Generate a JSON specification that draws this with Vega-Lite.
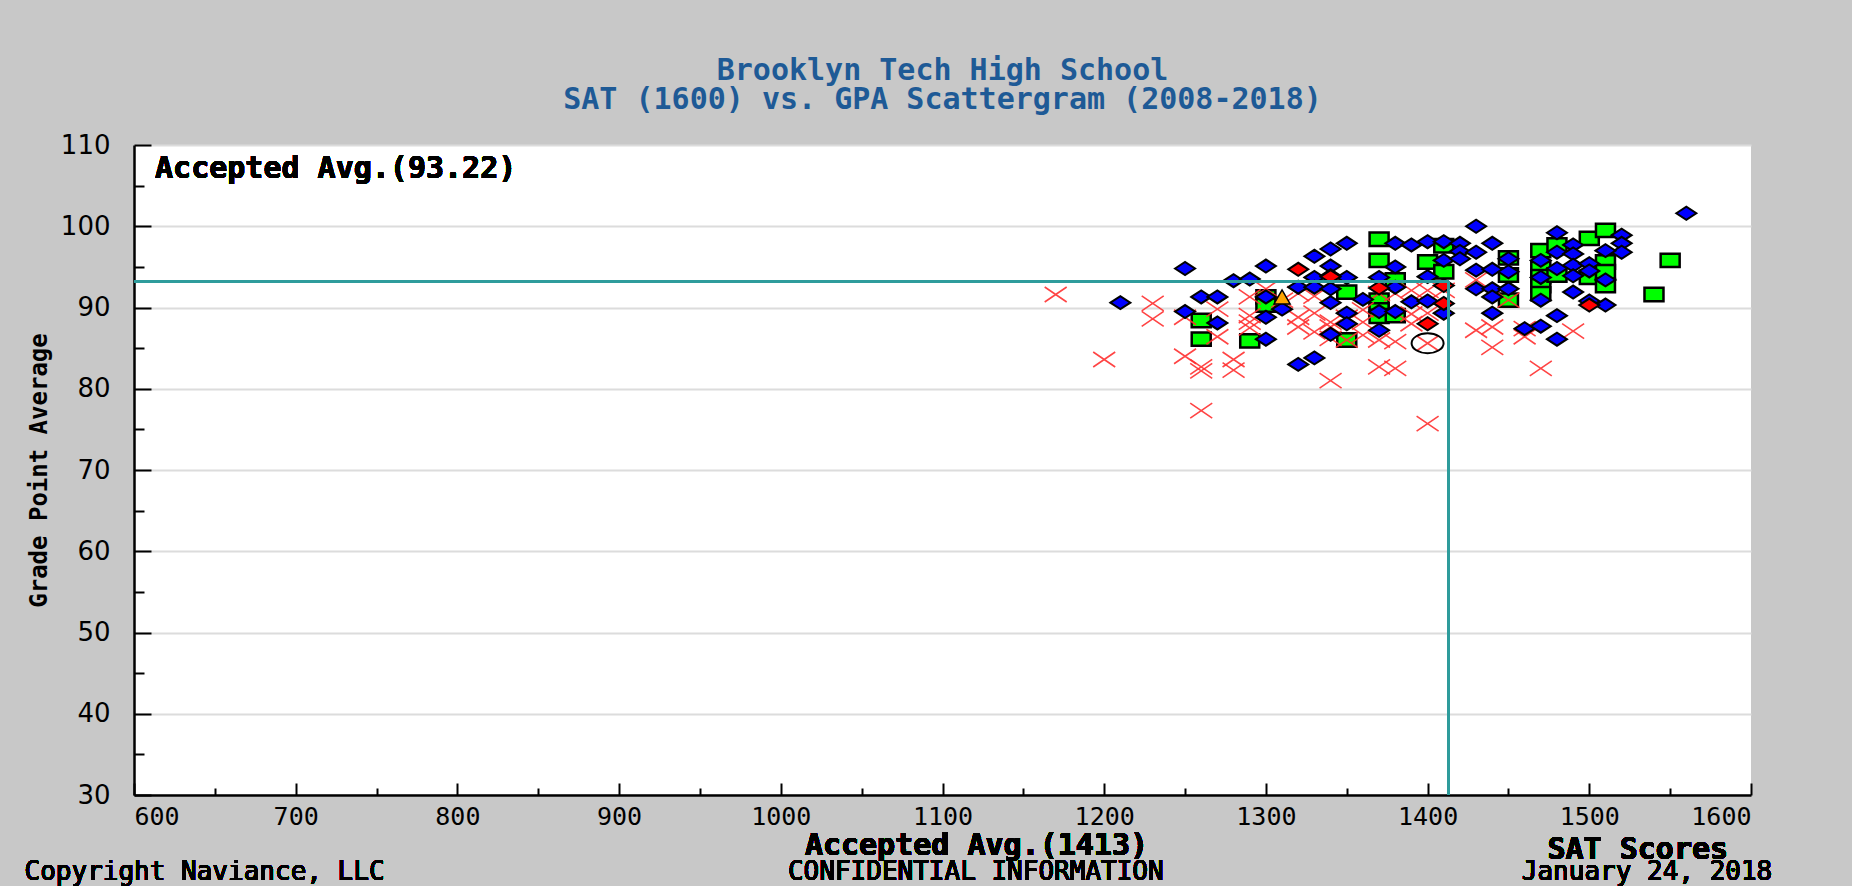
{
  "$schema": "https://vega.github.io/schema/vega-lite/v6.json",
  "autosize": {"type": "none"},
  "width": 1617,
  "height": 650,
  "padding": {"left": 134, "top": 145, "right": 101, "bottom": 91},
  "background": "#C8C8C8",
  "view": {"fill": "white", "stroke": null},
  "title": {
    "text": "Brooklyn Tech High School",
    "subtitle": "SAT (1600) vs. GPA Scattergram (2008-2018)",
    "anchor": "middle",
    "font": "DejaVu Sans Mono", "fontSize": 30, "fontWeight": "bold", "color": "#1E5A96",
    "subtitleFont": "DejaVu Sans Mono", "subtitleFontSize": 30, "subtitleFontWeight": "bold", "subtitleColor": "#1E5A96",
    "subtitlePadding": -1,
    "offset": 17
  },
  "resolve": {"axis": {"x": "independent", "y": "independent"}},
  "datasets": {
    "points": [
      {"sat": 1260, "gpa": 88.4, "group": "Accepted"},
      {"sat": 1260, "gpa": 86.1, "group": "Accepted"},
      {"sat": 1290, "gpa": 85.9, "group": "Accepted"},
      {"sat": 1300, "gpa": 91.3, "group": "Accepted"},
      {"sat": 1300, "gpa": 90.3, "group": "Accepted"},
      {"sat": 1350, "gpa": 91.9, "group": "Accepted"},
      {"sat": 1350, "gpa": 86.0, "group": "Accepted"},
      {"sat": 1370, "gpa": 98.4, "group": "Accepted"},
      {"sat": 1370, "gpa": 95.8, "group": "Accepted"},
      {"sat": 1370, "gpa": 90.9, "group": "Accepted"},
      {"sat": 1370, "gpa": 89.7, "group": "Accepted"},
      {"sat": 1370, "gpa": 88.9, "group": "Accepted"},
      {"sat": 1380, "gpa": 93.4, "group": "Accepted"},
      {"sat": 1380, "gpa": 89.0, "group": "Accepted"},
      {"sat": 1400, "gpa": 95.6, "group": "Accepted"},
      {"sat": 1410, "gpa": 97.6, "group": "Accepted"},
      {"sat": 1410, "gpa": 94.4, "group": "Accepted"},
      {"sat": 1450, "gpa": 96.1, "group": "Accepted"},
      {"sat": 1450, "gpa": 94.0, "group": "Accepted"},
      {"sat": 1450, "gpa": 90.9, "group": "Accepted"},
      {"sat": 1470, "gpa": 97.0, "group": "Accepted"},
      {"sat": 1470, "gpa": 94.8, "group": "Accepted"},
      {"sat": 1470, "gpa": 93.8, "group": "Accepted"},
      {"sat": 1470, "gpa": 92.7, "group": "Accepted"},
      {"sat": 1470, "gpa": 91.7, "group": "Accepted"},
      {"sat": 1480, "gpa": 97.7, "group": "Accepted"},
      {"sat": 1480, "gpa": 94.0, "group": "Accepted"},
      {"sat": 1500, "gpa": 98.5, "group": "Accepted"},
      {"sat": 1500, "gpa": 93.7, "group": "Accepted"},
      {"sat": 1510, "gpa": 99.5, "group": "Accepted"},
      {"sat": 1510, "gpa": 95.6, "group": "Accepted"},
      {"sat": 1510, "gpa": 94.4, "group": "Accepted"},
      {"sat": 1510, "gpa": 92.7, "group": "Accepted"},
      {"sat": 1540, "gpa": 91.6, "group": "Accepted"},
      {"sat": 1550, "gpa": 95.8, "group": "Accepted"},

      {"sat": 1170, "gpa": 91.6, "group": "Denied"},
      {"sat": 1200, "gpa": 83.6, "group": "Denied"},
      {"sat": 1230, "gpa": 90.5, "group": "Denied"},
      {"sat": 1230, "gpa": 88.6, "group": "Denied"},
      {"sat": 1250, "gpa": 84.0, "group": "Denied"},
      {"sat": 1250, "gpa": 88.8, "group": "Denied"},
      {"sat": 1260, "gpa": 82.7, "group": "Denied"},
      {"sat": 1260, "gpa": 82.2, "group": "Denied"},
      {"sat": 1260, "gpa": 77.3, "group": "Denied"},
      {"sat": 1270, "gpa": 89.8, "group": "Denied"},
      {"sat": 1270, "gpa": 86.4, "group": "Denied"},
      {"sat": 1280, "gpa": 83.6, "group": "Denied"},
      {"sat": 1280, "gpa": 82.3, "group": "Denied"},
      {"sat": 1290, "gpa": 91.3, "group": "Denied"},
      {"sat": 1290, "gpa": 89.0, "group": "Denied"},
      {"sat": 1290, "gpa": 88.2, "group": "Denied"},
      {"sat": 1290, "gpa": 87.5, "group": "Denied"},
      {"sat": 1300, "gpa": 92.3, "group": "Denied"},
      {"sat": 1310, "gpa": 90.9, "group": "Denied"},
      {"sat": 1320, "gpa": 91.7, "group": "Denied"},
      {"sat": 1320, "gpa": 88.8, "group": "Denied"},
      {"sat": 1320, "gpa": 87.6, "group": "Denied"},
      {"sat": 1330, "gpa": 91.4, "group": "Denied"},
      {"sat": 1330, "gpa": 89.3, "group": "Denied"},
      {"sat": 1330, "gpa": 87.0, "group": "Denied"},
      {"sat": 1340, "gpa": 88.2, "group": "Denied"},
      {"sat": 1340, "gpa": 87.6, "group": "Denied"},
      {"sat": 1340, "gpa": 86.2, "group": "Denied"},
      {"sat": 1340, "gpa": 81.0, "group": "Denied"},
      {"sat": 1350, "gpa": 88.8, "group": "Denied"},
      {"sat": 1350, "gpa": 86.0, "group": "Denied"},
      {"sat": 1360, "gpa": 89.7, "group": "Denied"},
      {"sat": 1360, "gpa": 88.2, "group": "Denied"},
      {"sat": 1360, "gpa": 86.6, "group": "Denied"},
      {"sat": 1370, "gpa": 91.7, "group": "Denied"},
      {"sat": 1370, "gpa": 86.0, "group": "Denied"},
      {"sat": 1370, "gpa": 82.7, "group": "Denied"},
      {"sat": 1380, "gpa": 91.7, "group": "Denied"},
      {"sat": 1380, "gpa": 85.8, "group": "Denied"},
      {"sat": 1380, "gpa": 82.5, "group": "Denied"},
      {"sat": 1390, "gpa": 92.1, "group": "Denied"},
      {"sat": 1390, "gpa": 89.2, "group": "Denied"},
      {"sat": 1390, "gpa": 88.0, "group": "Denied"},
      {"sat": 1400, "gpa": 92.1, "group": "Denied"},
      {"sat": 1400, "gpa": 89.3, "group": "Denied"},
      {"sat": 1400, "gpa": 85.6, "group": "Denied"},
      {"sat": 1400, "gpa": 75.7, "group": "Denied"},
      {"sat": 1410, "gpa": 92.1, "group": "Denied"},
      {"sat": 1430, "gpa": 93.4, "group": "Denied"},
      {"sat": 1430, "gpa": 87.2, "group": "Denied"},
      {"sat": 1440, "gpa": 87.6, "group": "Denied"},
      {"sat": 1440, "gpa": 85.1, "group": "Denied"},
      {"sat": 1450, "gpa": 90.9, "group": "Denied"},
      {"sat": 1460, "gpa": 87.4, "group": "Denied"},
      {"sat": 1460, "gpa": 86.4, "group": "Denied"},
      {"sat": 1470, "gpa": 82.5, "group": "Denied"},
      {"sat": 1490, "gpa": 87.1, "group": "Denied"},

      {"sat": 1210, "gpa": 90.6, "group": "EarlyAccepted"},
      {"sat": 1250, "gpa": 94.8, "group": "EarlyAccepted"},
      {"sat": 1250, "gpa": 89.5, "group": "EarlyAccepted"},
      {"sat": 1260, "gpa": 91.3, "group": "EarlyAccepted"},
      {"sat": 1270, "gpa": 91.3, "group": "EarlyAccepted"},
      {"sat": 1270, "gpa": 88.1, "group": "EarlyAccepted"},
      {"sat": 1280, "gpa": 93.3, "group": "EarlyAccepted"},
      {"sat": 1290, "gpa": 93.5, "group": "EarlyAccepted"},
      {"sat": 1300, "gpa": 95.1, "group": "EarlyAccepted"},
      {"sat": 1300, "gpa": 91.3, "group": "EarlyAccepted"},
      {"sat": 1300, "gpa": 88.8, "group": "EarlyAccepted"},
      {"sat": 1300, "gpa": 86.1, "group": "EarlyAccepted"},
      {"sat": 1310, "gpa": 89.8, "group": "EarlyAccepted"},
      {"sat": 1320, "gpa": 92.5, "group": "EarlyAccepted"},
      {"sat": 1320, "gpa": 83.0, "group": "EarlyAccepted"},
      {"sat": 1330, "gpa": 83.8, "group": "EarlyAccepted"},
      {"sat": 1330, "gpa": 96.3, "group": "EarlyAccepted"},
      {"sat": 1340, "gpa": 97.2, "group": "EarlyAccepted"},
      {"sat": 1350, "gpa": 97.9, "group": "EarlyAccepted"},
      {"sat": 1340, "gpa": 95.1, "group": "EarlyAccepted"},
      {"sat": 1330, "gpa": 93.7, "group": "EarlyAccepted"},
      {"sat": 1340, "gpa": 93.9, "group": "EarlyAccepted"},
      {"sat": 1350, "gpa": 93.7, "group": "EarlyAccepted"},
      {"sat": 1330, "gpa": 92.5, "group": "EarlyAccepted"},
      {"sat": 1340, "gpa": 92.3, "group": "EarlyAccepted"},
      {"sat": 1340, "gpa": 90.6, "group": "EarlyAccepted"},
      {"sat": 1350, "gpa": 89.3, "group": "EarlyAccepted"},
      {"sat": 1350, "gpa": 88.0, "group": "EarlyAccepted"},
      {"sat": 1340, "gpa": 86.7, "group": "EarlyAccepted"},
      {"sat": 1360, "gpa": 91.0, "group": "EarlyAccepted"},
      {"sat": 1380, "gpa": 97.9, "group": "EarlyAccepted"},
      {"sat": 1390, "gpa": 97.7, "group": "EarlyAccepted"},
      {"sat": 1400, "gpa": 98.1, "group": "EarlyAccepted"},
      {"sat": 1380, "gpa": 95.0, "group": "EarlyAccepted"},
      {"sat": 1370, "gpa": 93.7, "group": "EarlyAccepted"},
      {"sat": 1370, "gpa": 89.5, "group": "EarlyAccepted"},
      {"sat": 1370, "gpa": 87.2, "group": "EarlyAccepted"},
      {"sat": 1380, "gpa": 92.5, "group": "EarlyAccepted"},
      {"sat": 1380, "gpa": 89.5, "group": "EarlyAccepted"},
      {"sat": 1390, "gpa": 90.7, "group": "EarlyAccepted"},
      {"sat": 1400, "gpa": 90.8, "group": "EarlyAccepted"},
      {"sat": 1400, "gpa": 93.8, "group": "EarlyAccepted"},
      {"sat": 1410, "gpa": 98.1, "group": "EarlyAccepted"},
      {"sat": 1410, "gpa": 95.8, "group": "EarlyAccepted"},
      {"sat": 1410, "gpa": 89.3, "group": "EarlyAccepted"},
      {"sat": 1420, "gpa": 97.9, "group": "EarlyAccepted"},
      {"sat": 1420, "gpa": 96.9, "group": "EarlyAccepted"},
      {"sat": 1420, "gpa": 96.0, "group": "EarlyAccepted"},
      {"sat": 1430, "gpa": 100.0, "group": "EarlyAccepted"},
      {"sat": 1430, "gpa": 96.8, "group": "EarlyAccepted"},
      {"sat": 1440, "gpa": 97.9, "group": "EarlyAccepted"},
      {"sat": 1430, "gpa": 94.6, "group": "EarlyAccepted"},
      {"sat": 1440, "gpa": 94.7, "group": "EarlyAccepted"},
      {"sat": 1430, "gpa": 92.3, "group": "EarlyAccepted"},
      {"sat": 1440, "gpa": 92.3, "group": "EarlyAccepted"},
      {"sat": 1440, "gpa": 91.3, "group": "EarlyAccepted"},
      {"sat": 1440, "gpa": 89.3, "group": "EarlyAccepted"},
      {"sat": 1450, "gpa": 96.0, "group": "EarlyAccepted"},
      {"sat": 1450, "gpa": 94.4, "group": "EarlyAccepted"},
      {"sat": 1450, "gpa": 92.3, "group": "EarlyAccepted"},
      {"sat": 1460, "gpa": 87.4, "group": "EarlyAccepted"},
      {"sat": 1470, "gpa": 87.7, "group": "EarlyAccepted"},
      {"sat": 1480, "gpa": 89.0, "group": "EarlyAccepted"},
      {"sat": 1480, "gpa": 86.1, "group": "EarlyAccepted"},
      {"sat": 1490, "gpa": 91.9, "group": "EarlyAccepted"},
      {"sat": 1500, "gpa": 90.8, "group": "EarlyAccepted"},
      {"sat": 1510, "gpa": 90.3, "group": "EarlyAccepted"},
      {"sat": 1560, "gpa": 101.6, "group": "EarlyAccepted"},
      {"sat": 1520, "gpa": 98.9, "group": "EarlyAccepted"},
      {"sat": 1520, "gpa": 97.9, "group": "EarlyAccepted"},
      {"sat": 1520, "gpa": 96.8, "group": "EarlyAccepted"},
      {"sat": 1480, "gpa": 99.2, "group": "EarlyAccepted"},
      {"sat": 1480, "gpa": 96.8, "group": "EarlyAccepted"},
      {"sat": 1490, "gpa": 97.7, "group": "EarlyAccepted"},
      {"sat": 1490, "gpa": 96.6, "group": "EarlyAccepted"},
      {"sat": 1490, "gpa": 95.2, "group": "EarlyAccepted"},
      {"sat": 1490, "gpa": 93.9, "group": "EarlyAccepted"},
      {"sat": 1500, "gpa": 95.4, "group": "EarlyAccepted"},
      {"sat": 1500, "gpa": 94.5, "group": "EarlyAccepted"},
      {"sat": 1510, "gpa": 97.0, "group": "EarlyAccepted"},
      {"sat": 1510, "gpa": 93.4, "group": "EarlyAccepted"},
      {"sat": 1470, "gpa": 95.8, "group": "EarlyAccepted"},
      {"sat": 1470, "gpa": 93.7, "group": "EarlyAccepted"},
      {"sat": 1470, "gpa": 90.9, "group": "EarlyAccepted"},
      {"sat": 1480, "gpa": 94.8, "group": "EarlyAccepted"},

      {"sat": 1320, "gpa": 94.7, "group": "EarlyDenied"},
      {"sat": 1340, "gpa": 93.8, "group": "EarlyDenied"},
      {"sat": 1370, "gpa": 92.4, "group": "EarlyDenied"},
      {"sat": 1400, "gpa": 88.0, "group": "EarlyDenied"},
      {"sat": 1410, "gpa": 92.7, "group": "EarlyDenied"},
      {"sat": 1410, "gpa": 90.5, "group": "EarlyDenied"},
      {"sat": 1500, "gpa": 90.3, "group": "EarlyDenied"},

      {"sat": 1310, "gpa": 91.3, "group": "Waitlisted"},
      {"sat": 1400, "gpa": 85.6, "group": "Student"}
    ]
  },
  "data": {"name": "points"},
  "encoding": {
    "x": {"field": "sat", "type": "quantitative", "scale": {"domain": [600, 1600], "nice": false, "zero": false}, "axis": null},
    "y": {"field": "gpa", "type": "quantitative", "scale": {"domain": [30, 110], "nice": false, "zero": false}, "axis": null}
  },
  "layer": [
    {
      "transform": [{"filter": "datum.group === 'Accepted'"}],
      "mark": {"type": "point", "shape": "M-1,-0.7L1,-0.7L1,0.7L-1,0.7Z", "size": 361, "filled": true, "fill": "#00FF00", "stroke": "black", "strokeWidth": 2.5, "opacity": 1},
      "encoding": {
        "x": {
          "field": "sat", "type": "quantitative",
          "scale": {"domain": [600, 1600], "nice": false, "zero": false},
          "axis": {
            "orient": "bottom",
            "title": null,
            "values": [600, 700, 800, 900, 1000, 1100, 1200, 1300, 1400, 1500, 1600],
            "format": "d",
            "grid": false,
            "domainColor": "black", "domainWidth": 2.5,
            "tickColor": "black", "tickWidth": 2, "tickSize": -12,
            "labelFont": "DejaVu Sans Mono", "labelFontSize": 25, "labelColor": "black",
            "labelPadding": 21
          }
        },
        "y": {
          "field": "gpa", "type": "quantitative",
          "scale": {"domain": [30, 110], "nice": false, "zero": false},
          "axis": {
            "orient": "left",
            "title": "Grade Point Average",
            "titleFont": "DejaVu Sans Mono", "titleFontSize": 24, "titleFontWeight": "bold", "titleColor": "black",
            "titlePadding": 9,
            "values": [30, 40, 50, 60, 70, 80, 90, 100, 110],
            "grid": true, "gridColor": "#DCDCDC", "gridWidth": 2,
            "domainColor": "black", "domainWidth": 2.5,
            "tickColor": "black", "tickWidth": 2, "tickSize": -17,
            "labelFont": "DejaVu Sans", "labelFontSize": 26, "labelColor": "black",
            "labelPadding": 41
          }
        }
      }
    },
    {
      "transform": [{"filter": "datum.group === 'Denied'"}],
      "mark": {"type": "point", "shape": "M-1,-0.68L1,0.68M-1,0.68L1,-0.68", "size": 484, "filled": false, "stroke": "#FF3030", "strokeWidth": 1.6, "opacity": 0.9}
    },
    {
      "transform": [{"filter": "datum.group === 'EarlyAccepted'"}],
      "mark": {"type": "point", "shape": "M-1,0L0,-0.65L1,0L0,0.65Z", "size": 400, "filled": true, "fill": "#0000FF", "stroke": "black", "strokeWidth": 2, "opacity": 1}
    },
    {
      "transform": [{"filter": "datum.group === 'EarlyDenied'"}],
      "mark": {"type": "point", "shape": "M-1,0L0,-0.65L1,0L0,0.65Z", "size": 400, "filled": true, "fill": "#FF0000", "stroke": "black", "strokeWidth": 2, "opacity": 1}
    },
    {
      "transform": [{"filter": "datum.group === 'Waitlisted'"}],
      "mark": {"type": "point", "shape": "triangle-up", "size": 260, "filled": true, "fill": "#FFA500", "stroke": "black", "strokeWidth": 1.5, "opacity": 1}
    },
    {
      "transform": [{"filter": "datum.group === 'Student'"}],
      "mark": {"type": "point", "shape": "M-1,0A1,0.62,0,1,1,1,0A1,0.62,0,1,1,-1,0Z", "size": 1024, "filled": false, "stroke": "black", "strokeWidth": 2, "opacity": 1}
    },
    {
      "mark": {"type": "rule", "color": "#2E9C9C", "strokeWidth": 2.5},
      "encoding": {
        "x": {"datum": 600, "type": "quantitative", "scale": {"domain": [600, 1600], "nice": false, "zero": false}, "axis": null},
        "x2": {"datum": 1413},
        "y": {"datum": 93.22, "type": "quantitative", "scale": {"domain": [30, 110], "nice": false, "zero": false}, "axis": null}
      }
    },
    {
      "mark": {"type": "rule", "color": "#2E9C9C", "strokeWidth": 2.5},
      "encoding": {
        "x": {
          "datum": 1413, "type": "quantitative",
          "scale": {"domain": [600, 1600], "nice": false, "zero": false},
          "axis": {
            "orient": "bottom", "title": null,
            "values": [650, 750, 850, 950, 1050, 1150, 1250, 1350, 1450, 1550],
            "labels": false, "domain": false, "grid": false,
            "tickColor": "black", "tickWidth": 2, "tickSize": -7
          }
        },
        "y": {
          "datum": 30, "type": "quantitative",
          "scale": {"domain": [30, 110], "nice": false, "zero": false},
          "axis": {
            "orient": "left", "title": null,
            "values": [35, 45, 55, 65, 75, 85, 95, 105],
            "labels": false, "domain": false, "grid": false,
            "tickColor": "black", "tickWidth": 2, "tickSize": -10
          }
        },
        "y2": {"datum": 93.22}
      }
    },
    {
      "mark": {"type": "text", "text": "Accepted Avg.(93.22)", "align": "left", "baseline": "middle", "font": "DejaVu Sans Mono", "fontSize": 30, "fontWeight": "bold", "color": "black", "opacity": 0.03},
      "encoding": {
        "x": {"datum": 613, "type": "quantitative", "scale": {"domain": [600, 1600], "nice": false, "zero": false}, "axis": null},
        "y": {"datum": 107.1, "type": "quantitative", "scale": {"domain": [30, 110], "nice": false, "zero": false}, "axis": null}
      }
    },
    {
      "mark": {"type": "text", "text": "Accepted Avg.(1413)", "align": "center", "baseline": "middle", "font": "DejaVu Sans Mono", "fontSize": 30, "fontWeight": "bold", "color": "black", "opacity": 0.03},
      "encoding": {
        "x": {"datum": 1121, "type": "quantitative", "scale": {"domain": [600, 1600], "nice": false, "zero": false}, "axis": null},
        "y": {"datum": 23.7, "type": "quantitative", "scale": {"domain": [30, 110], "nice": false, "zero": false}, "axis": null}
      }
    },
    {
      "mark": {"type": "text", "text": "SAT Scores", "align": "center", "baseline": "middle", "font": "DejaVu Sans Mono", "fontSize": 30, "fontWeight": "bold", "color": "black", "opacity": 0.03},
      "encoding": {
        "x": {"datum": 1530, "type": "quantitative", "scale": {"domain": [600, 1600], "nice": false, "zero": false}, "axis": null},
        "y": {"datum": 23.2, "type": "quantitative", "scale": {"domain": [30, 110], "nice": false, "zero": false}, "axis": null}
      }
    },
    {
      "mark": {"type": "text", "text": "Copyright Naviance, LLC", "align": "left", "baseline": "middle", "font": "DejaVu Sans Mono", "fontSize": 26, "color": "black", "opacity": 0.03},
      "encoding": {
        "x": {"datum": 532.3, "type": "quantitative", "scale": {"domain": [600, 1600], "nice": false, "zero": false}, "axis": null},
        "y": {"datum": 20.5, "type": "quantitative", "scale": {"domain": [30, 110], "nice": false, "zero": false}, "axis": null}
      }
    },
    {
      "mark": {"type": "text", "text": "CONFIDENTIAL INFORMATION", "align": "center", "baseline": "middle", "font": "DejaVu Sans Mono", "fontSize": 26, "color": "black", "opacity": 0.03},
      "encoding": {
        "x": {"datum": 1120.6, "type": "quantitative", "scale": {"domain": [600, 1600], "nice": false, "zero": false}, "axis": null},
        "y": {"datum": 20.5, "type": "quantitative", "scale": {"domain": [30, 110], "nice": false, "zero": false}, "axis": null}
      }
    },
    {
      "mark": {"type": "text", "text": "January 24, 2018", "align": "center", "baseline": "middle", "font": "DejaVu Sans Mono", "fontSize": 26, "color": "black", "opacity": 0.03},
      "encoding": {
        "x": {"datum": 1535.7, "type": "quantitative", "scale": {"domain": [600, 1600], "nice": false, "zero": false}, "axis": null},
        "y": {"datum": 20.5, "type": "quantitative", "scale": {"domain": [30, 110], "nice": false, "zero": false}, "axis": null}
      }
    }
  ]
}
